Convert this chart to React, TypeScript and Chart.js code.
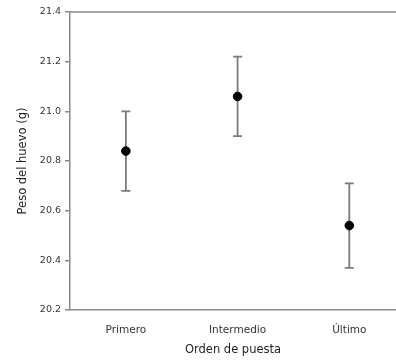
import React, { useEffect, useRef } from "react";
import { Chart, registerables } from "chart.js";

Chart.register(...registerables);

const categories = ["Primero", "Intermedio", "Último"];
const means = [20.84, 21.06, 20.54];
const upper = [21.0, 21.22, 20.71];
const lower = [20.68, 20.9, 20.37];
const yTicks = [20.2, 20.4, 20.6, 20.8, 21.0, 21.2, 21.4];

const FONT = "'DejaVu Sans', sans-serif";
const AXIS = "#8a8a8a";

const errorBars = {
  id: "errorBars",
  beforeDatasetsDraw(chart: any) {
    const { ctx, scales, chartArea } = chart;
    const xs = scales.x;
    const ys = scales.y;
    ctx.save();
    ctx.strokeStyle = AXIS;
    ctx.lineWidth = 1.5;
    ctx.beginPath();
    ctx.moveTo(chartArea.left, chartArea.top);
    ctx.lineTo(chartArea.right, chartArea.top);
    ctx.stroke();
    ctx.strokeStyle = "#7a7a7a";
    ctx.lineWidth = 1.8;
    categories.forEach((_, i) => {
      const x = xs.getPixelForValue(i + 1);
      const yt = ys.getPixelForValue(upper[i]);
      const yb = ys.getPixelForValue(lower[i]);
      ctx.beginPath();
      ctx.moveTo(x, yt);
      ctx.lineTo(x, yb);
      ctx.moveTo(x - 4.5, yt);
      ctx.lineTo(x + 4.5, yt);
      ctx.moveTo(x - 4.5, yb);
      ctx.lineTo(x + 4.5, yb);
      ctx.stroke();
    });
    ctx.restore();
  },
};

export default function App() {
  const ref = useRef<HTMLCanvasElement | null>(null);
  useEffect(() => {
    if (!ref.current) return;
    const chart = new Chart(ref.current, {
      type: "scatter",
      data: {
        datasets: [
          {
            data: means.map((m, i) => ({ x: i + 1, y: m })),
            backgroundColor: "#000",
            borderColor: "#000",
            pointRadius: 4.3,
            pointHoverRadius: 4.3,
          },
        ],
      },
      plugins: [errorBars],
      options: {
        animation: false,
        responsive: false,
        maintainAspectRatio: false,
        layout: { autoPadding: false, padding: { top: 12, right: 0, left: 0, bottom: 0 } },
        plugins: { legend: { display: false }, tooltip: { enabled: false } },
        scales: {
          x: {
            type: "linear",
            min: 0.5,
            max: 3.418,
            afterBuildTicks: (s: any) => {
              s.ticks = categories.map((_, i) => ({ value: i + 1 }));
            },
            afterFit: (s: any) => {
              s.height = 51;
              s.paddingRight = 0;
              s.paddingLeft = 0;
            },
            grid: { display: false },
            border: { display: true, color: AXIS, width: 1.5 },
            ticks: {
              callback: (v: any) => categories[Number(v) - 1] ?? "",
              color: "#333",
              font: { family: FONT, size: 10.5 },
              padding: 6,
              maxRotation: 0,
            },
            title: {
              display: true,
              text: "Orden de puesta",
              color: "#222",
              font: { family: FONT, size: 11.5 },
              padding: { top: 6, bottom: 4 },
            },
          },
          y: {
            min: 20.2,
            max: 21.4,
            afterBuildTicks: (s: any) => {
              s.ticks = yTicks.map((v) => ({ value: v }));
            },
            afterFit: (s: any) => {
              s.width = 70;
            },
            grid: {
              drawOnChartArea: false,
              drawTicks: true,
              tickLength: 5,
              color: AXIS,
              lineWidth: 1.5,
            },
            border: { display: true, color: AXIS, width: 1.5 },
            ticks: {
              callback: (v: any) => Number(v).toFixed(1),
              color: "#333",
              font: { family: FONT, size: 9.5 },
              padding: 4,
            },
            title: {
              display: true,
              text: "Peso del huevo (g)",
              color: "#222",
              font: { family: FONT, size: 11.5 },
              padding: { top: 16, bottom: 0 },
            },
          },
        },
      },
    });
    return () => chart.destroy();
  }, []);
  return (
    <div style={{ position: "fixed", left: 0, top: 0, width: 396, height: 361, background: "#fff" }}>
      <canvas ref={ref} width={396} height={361} style={{ display: "block" }} />
    </div>
  );
}
